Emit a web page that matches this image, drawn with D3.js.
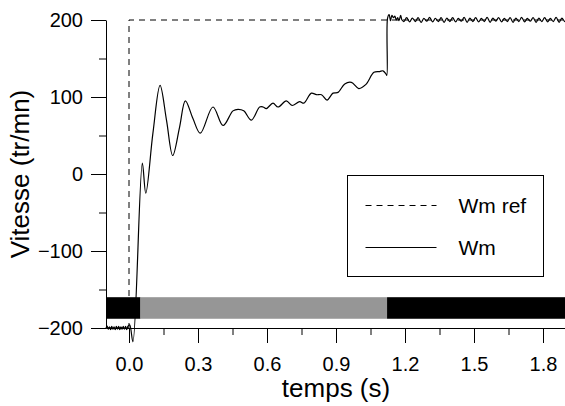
<!DOCTYPE html>
<html>
<head>
<meta charset="utf-8">
<script src="https://cdn.jsdelivr.net/npm/d3@7"></script>
<style>
  body { margin: 0; background: #fff; }
  text { font-family: "Liberation Sans", Arial, sans-serif; fill: #000; }
  .axis path, .axis line { stroke: #000; stroke-width: 1; }
</style>
</head>
<body>
<div id="chart"></div>
<script>
// reference speed (tr/mn)
const refSeries = [[-0.1, -200], [0, -200], [0, 200], [1.9, 200]]

const wmSeries = [
  [-0.100, -200], [-0.095, -197.5], [-0.090, -201.5], [-0.085, -198.5], [-0.080, -202],
  [-0.075, -198], [-0.070, -201.5], [-0.065, -198.5], [-0.060, -202], [-0.055, -198],
  [-0.050, -201.5], [-0.045, -198], [-0.040, -202], [-0.035, -198.5], [-0.030, -201.5],
  [-0.025, -198], [-0.020, -201.5], [-0.015, -198], [-0.010, -202], [-0.005, -198],
  [0.003, -196], [0.017, -218], [0.058, 14], [0.073, -25], [0.104, 53],
  [0.135, 115], [0.163, 70], [0.190, 24], [0.220, 61], [0.245, 95],
  [0.278, 72], [0.310, 53], [0.365, 87], [0.409, 63], [0.452, 82],
  [0.474, 84], [0.499, 82], [0.532, 70], [0.568, 87], [0.583, 87],
  [0.597, 85], [0.626, 92], [0.648, 87], [0.684, 95], [0.709, 89],
  [0.742, 94], [0.760, 92], [0.793, 105], [0.815, 103], [0.837, 103],
  [0.861, 96], [0.887, 105], [0.909, 106], [0.938, 117], [0.967, 119],
  [0.999, 111], [1.029, 116], [1.065, 132], [1.090, 133], [1.104, 134],
  [1.117, 130], [1.121, 128], [1.124, 202], [1.131, 207], [1.137, 199],
  [1.143, 206], [1.150, 203], [1.156, 205], [1.162, 200], [1.168, 203],
  [1.174, 199], [1.181, 206], [1.187, 200], [1.195, 198], [1.207, 203],
  [1.220, 197.5], [1.232, 202.5], [1.245, 198], [1.257, 203], [1.270, 197],
  [1.282, 202], [1.295, 198.5], [1.307, 203.5], [1.320, 197.5], [1.332, 202],
  [1.345, 198], [1.357, 203], [1.370, 197], [1.382, 202.5], [1.395, 198],
  [1.407, 203], [1.420, 197.5], [1.432, 202], [1.445, 198.5], [1.457, 203.5],
  [1.470, 197], [1.482, 202.5], [1.495, 198], [1.507, 203], [1.520, 197.5],
  [1.532, 202], [1.545, 198], [1.557, 203.5], [1.570, 197], [1.582, 202.5],
  [1.595, 198.5], [1.607, 203], [1.620, 197.5], [1.632, 202], [1.645, 198],
  [1.657, 203], [1.670, 197], [1.682, 202.5], [1.695, 198], [1.707, 203.5],
  [1.720, 197.5], [1.732, 202], [1.745, 198.5], [1.757, 203], [1.770, 197],
  [1.782, 202.5], [1.795, 198], [1.807, 203], [1.820, 197.5], [1.832, 202],
  [1.845, 198], [1.857, 203.5], [1.870, 197], [1.882, 202.5], [1.895, 198],
  [1.900, 200]
]

// state band at the bottom: [start, end, colour]
const bandSegments = [[-0.1, 0.05, '#000'], [0.05, 1.122, '#969696'], [1.122, 1.9, '#000']]
const bandRange = [-160, -188]

const xTicks = [0, 0.3, 0.6, 0.9, 1.2, 1.5, 1.8]
const xMinorTicks = [0.15, 0.45, 0.75, 1.05, 1.35, 1.65]
const yTicks = [-200, -100, 0, 100, 200]
const yMinorTicks = [-150, -50, 50, 150]

const legendItems = [['Wm ref', '6,5'], ['Wm', null]]

const width = 565
const height = 406
const plot = { left: 106, right: 566, top: 20, bottom: 328 }

const x = d3.scaleLinear().domain([-0.1, 1.9]).range([plot.left, plot.right])
const y = d3.scaleLinear().domain([-200, 200]).range([plot.bottom, plot.top])

const svg = d3.select('#chart')
  .append('svg')
  .attr('width', width)
  .attr('height', height)
  .attr('viewBox', [0, 0, width, height])

const refLine = d3.line()
  .x(d => x(d[0]))
  .y(d => y(d[1]))

const wmLine = d3.line()
  .x(d => x(d[0]))
  .y(d => y(d[1]))
  .curve(d3.curveCatmullRom.alpha(0.5))

svg.append('path')
  .datum(refSeries)
  .attr('fill', 'none')
  .attr('stroke', '#000')
  .attr('stroke-width', 1)
  .attr('stroke-dasharray', '6,5')
  .attr('d', refLine)

svg.append('path')
  .datum(wmSeries)
  .attr('fill', 'none')
  .attr('stroke', '#000')
  .attr('stroke-width', 1.2)
  .attr('stroke-linejoin', 'round')
  .attr('d', wmLine)

// band sits on top of the curves
svg.append('g')
  .selectAll('rect')
  .data(bandSegments)
  .join('rect')
  .attr('x', d => x(d[0]))
  .attr('width', d => x(d[1]) - x(d[0]))
  .attr('y', y(bandRange[0]))
  .attr('height', y(bandRange[1]) - y(bandRange[0]))
  .attr('fill', d => d[2])

// axes
svg.append('g')
  .attr('class', 'axis')
  .attr('transform', `translate(${plot.left}, 0)`)
  .call(d3.axisLeft(y).tickValues(yTicks).tickSize(15).tickSizeOuter(0).tickPadding(8))
  .call(g => g.selectAll('text').attr('font-size', 20))

svg.append('g')
  .attr('class', 'axis')
  .attr('transform', `translate(${plot.left}, 0)`)
  .call(d3.axisLeft(y).tickValues(yMinorTicks).tickSize(7).tickFormat(''))
  .call(g => g.select('.domain').remove())

svg.append('g')
  .attr('class', 'axis')
  .attr('transform', `translate(0, ${plot.bottom})`)
  .call(d3.axisBottom(x).tickValues(xTicks).tickFormat(d3.format('.1f'))
    .tickSize(15).tickSizeOuter(0).tickPadding(14))
  .call(g => g.selectAll('text').attr('font-size', 20))

svg.append('g')
  .attr('class', 'axis')
  .attr('transform', `translate(0, ${plot.bottom})`)
  .call(d3.axisBottom(x).tickValues(xMinorTicks).tickSize(7).tickFormat(''))
  .call(g => g.select('.domain').remove())

svg.selectAll('.axis').attr('fill', null).attr('font-family', null)

// axis titles
svg.append('text')
  .attr('x', (plot.left + plot.right) / 2)
  .attr('y', 397)
  .attr('text-anchor', 'middle')
  .attr('font-size', 26)
  .text('temps (s)')

svg.append('text')
  .attr('transform', 'translate(29, 174) rotate(-90)')
  .attr('text-anchor', 'middle')
  .attr('font-size', 26)
  .text('Vitesse (tr/mn)')

// legend
const legend = svg.append('g').attr('transform', 'translate(347.5, 175.5)')

legend.append('rect')
  .attr('width', 196)
  .attr('height', 101)
  .attr('fill', '#fff')
  .attr('stroke', '#000')
  .attr('stroke-width', 1)

const legendRow = legend.selectAll('g.row')
  .data(legendItems)
  .join('g')
  .attr('class', 'row')
  .attr('transform', (d, i) => `translate(0, ${30 + i * 42})`)

legendRow.append('line')
  .attr('x1', 18)
  .attr('x2', 89)
  .attr('stroke', '#000')
  .attr('stroke-width', 1)
  .attr('stroke-dasharray', d => d[1])

legendRow.append('text')
  .attr('x', 111)
  .attr('dy', '0.35em')
  .attr('font-size', 21)
  .text(d => d[0])
</script>
</body>
</html>
